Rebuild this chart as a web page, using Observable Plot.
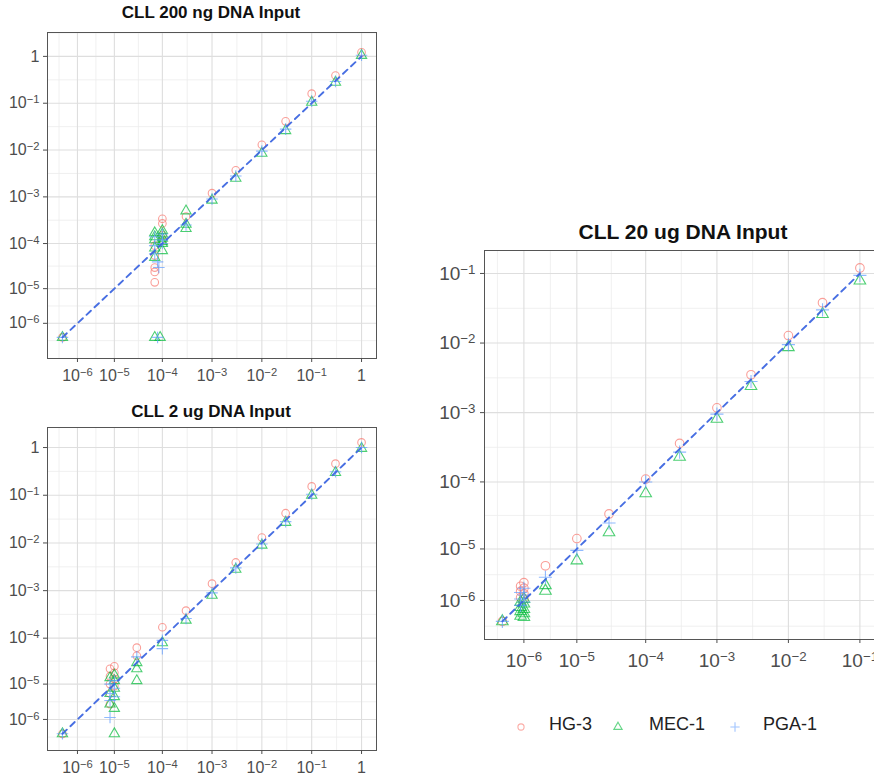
<!DOCTYPE html>
<html><head><meta charset="utf-8">
<script src="https://cdn.jsdelivr.net/npm/d3@7"></script>
<script src="https://cdn.jsdelivr.net/npm/@observablehq/plot@0.6"></script>
<style>
body{margin:0;width:874px;height:780px;overflow:hidden;background:#fff;font-family:"Liberation Sans",Arial,sans-serif;position:relative}
.title{position:absolute;font-weight:bold;color:#111;text-align:center;white-space:nowrap;transform:translateX(-50%)}
.leg{position:absolute;top:714px;font-size:18px;color:#222;white-space:nowrap}
</style></head><body>
<script>
// ---------- data ----------
const seriesNames = ["HG-3", "MEC-1", "PGA-1"];
const seriesColors = ["#F8766D", "#00BA38", "#619CFF"];
const seriesSymbols = ["circle", "triangle", "plus"];

const majorTicksLeft = [1e-6, 1e-5, 1e-4, 1e-3, 1e-2, 1e-1, 1];
const majorLabelsLeft = ["10^-6", "10^-5", "10^-4", "10^-3", "10^-2", "10^-1", "1"];
const majorTicksRight = [1e-6, 1e-5, 1e-4, 1e-3, 1e-2, 1e-1];
const majorLabelsRight = ["10^-6", "10^-5", "10^-4", "10^-3", "10^-2", "10^-1"];

// CLL 200 ng
const x200_HG3 = [1, 0.3, 0.1, 0.03, 0.01, 0.003, 0.001, 3e-4, 1e-4, 1e-4, 1e-4, 1e-4, 7e-5, 7e-5, 7e-5, 7e-5, 7e-5, 0];
const y200_HG3 = [1.22, 0.39, 0.16, 0.041, 0.013, 0.0037, 0.0012, 3.8e-4, 3.4e-4, 2.7e-4, 1.5e-4, 1.2e-4, 9e-5, 5.5e-5, 3e-5, 2.4e-5, 1.4e-5, 0];
const x200_MEC1 = [1, 0.3, 0.1, 0.03, 0.01, 0.003, 0.001, 3e-4, 3e-4, 3e-4, 1e-4, 1e-4, 1e-4, 1e-4, 1e-4, 1e-4, 7e-5, 7e-5, 7e-5, 7e-5, 7e-5, 7e-5, 9e-5, 0];
const y200_MEC1 = [1.05, 0.28, 0.105, 0.026, 0.0085, 0.0025, 0.00085, 5e-4, 2.6e-4, 2.1e-4, 1.9e-4, 1.6e-4, 1.3e-4, 1.1e-4, 1e-4, 7e-5, 1.7e-4, 1.4e-4, 1.2e-4, 8e-5, 5e-5, 0, 0, 0];
const x200_PGA1 = [1, 0.3, 0.1, 0.03, 0.01, 0.003, 0.001, 3e-4, 1e-4, 1e-4, 1e-4, 8.5e-5, 7e-5, 7e-5, 7e-5, 8e-5, 8e-5, 0];
const y200_PGA1 = [1.06, 0.29, 0.11, 0.028, 0.0095, 0.0028, 0.0009, 2.5e-4, 1.6e-4, 1.2e-4, 1e-4, 3e-5, 1.4e-4, 9e-5, 6e-5, 0, 4e-5, 0];

// CLL 2 ug
const x2_HG3 = [1, 0.3, 0.1, 0.03, 0.01, 0.003, 0.001, 3e-4, 1e-4, 3e-5, 3e-5, 1e-5, 1e-5, 1e-5, 1e-5, 8e-6, 8e-6, 8e-6, 8e-6, 8e-6, 0];
const y2_HG3 = [1.28, 0.46, 0.153, 0.042, 0.013, 0.0039, 0.0014, 3.8e-4, 1.7e-4, 6.3e-5, 4.2e-5, 2.5e-5, 1.8e-5, 1.3e-5, 9e-6, 2.2e-5, 1.5e-5, 1e-5, 6e-6, 3.2e-6, 0];
const x2_MEC1 = [1, 0.3, 0.1, 0.03, 0.01, 0.003, 0.001, 3e-4, 1e-4, 3e-5, 3e-5, 3e-5, 1e-5, 1e-5, 1e-5, 1e-5, 1e-5, 8e-6, 8e-6, 8e-6, 1e-5, 0];
const y2_MEC1 = [0.96, 0.30, 0.1, 0.027, 0.009, 0.0028, 0.0008, 2.4e-4, 8e-5, 3e-5, 2.2e-5, 1.2e-5, 1.6e-5, 1.2e-5, 8e-6, 5e-6, 2.4e-6, 1.4e-5, 6e-6, 3.2e-6, 0, 0];
const x2_PGA1 = [1, 0.3, 0.1, 0.03, 0.01, 0.003, 0.001, 3e-4, 1e-4, 1e-4, 3e-5, 1e-5, 1e-5, 1e-5, 8e-6, 8e-6, 8e-6, 8e-6, 0];
const y2_PGA1 = [1.0, 0.31, 0.105, 0.028, 0.0095, 0.003, 0.0009, 2.6e-4, 9e-5, 6e-5, 4e-5, 1.2e-5, 8e-6, 5e-6, 1e-5, 6e-6, 4e-6, 1.2e-6, 0];

// CLL 20 ug
const x20_HG3 = [0.1, 0.03, 0.01, 0.003, 0.001, 3e-4, 1e-4, 3e-5, 1e-5, 3e-6, 1e-6, 1e-6, 1e-6, 1e-6, 8e-7, 8e-7, 8e-7, 0];
const y20_HG3 = [0.12, 0.038, 0.0128, 0.0035, 0.00117, 3.6e-4, 1.1e-4, 3.4e-5, 1.45e-5, 5.3e-6, 2.6e-6, 2e-6, 1.5e-6, 1.1e-6, 2.2e-6, 1.7e-6, 1.2e-6, 0];
const x20_MEC1 = [0.1, 0.03, 0.01, 0.003, 0.001, 3e-4, 1e-4, 3e-5, 1e-5, 3e-6, 3e-6, 1e-6, 1e-6, 1e-6, 1e-6, 1e-6, 8e-7, 8e-7, 8e-7, 8e-7, 0];
const y20_MEC1 = [0.079, 0.026, 0.0087, 0.0024, 0.00081, 2.3e-4, 6.8e-5, 1.8e-5, 6.5e-6, 2.3e-6, 1.75e-6, 1.1e-6, 8e-7, 5e-7, 3e-7, 1.5e-7, 9e-7, 6e-7, 4e-7, 2e-7, 0];
const x20_PGA1 = [0.1, 0.03, 0.01, 0.003, 0.001, 3e-4, 1e-4, 3e-5, 1e-5, 3e-6, 1e-6, 1e-6, 1e-6, 8e-7, 8e-7, 8e-7, 0];
const y20_PGA1 = [0.094, 0.030, 0.0095, 0.0028, 0.00095, 2.7e-4, 1e-4, 2.5e-5, 9.5e-6, 3.3e-6, 2e-6, 1.4e-6, 9e-7, 1.6e-6, 1.1e-6, 7e-7, 0];

// ---------- helpers ----------
const OFFSET = 1e-6;              // axis transform: log10(value + 1e-6)
const u = v => Math.log10(v + OFFSET);

function toRows(xs, ys, s) { return xs.map((x, i) => ({x, y: ys[i], s})); }

function minorOf(majU, dom) {
  const b = [majU[0] - (majU[1] - majU[0]), ...majU, majU[majU.length - 1] + (majU[majU.length - 1] - majU[majU.length - 2])];
  const out = [];
  for (let i = 0; i < b.length - 1; i++) out.push((b[i] + b[i + 1]) / 2);
  return out.filter(v => v > dom[0] && v < dom[1]);
}

function supify(svg) {
  svg.querySelectorAll("text").forEach(t => {
    const m = /^10\^(-?\d+)$/.exec(t.textContent);
    if (m) {
      t.textContent = "10";
      const ts = document.createElementNS("http://www.w3.org/2000/svg", "tspan");
      ts.setAttribute("dy", "-0.45em");
      ts.setAttribute("font-size", "0.7em");
      ts.textContent = m[1].replace("-", "\u2212");
      t.appendChild(ts);
    }
  });
}

function panel(o) {
  const ticksU = o.ticks.map(u);
  const lab = new Map(ticksU.map((t, i) => [t, o.labels[i]]));
  const rows = [
    ...toRows(o.data[0][0], o.data[0][1], 0),
    ...toRows(o.data[1][0], o.data[1][1], 1),
    ...toRows(o.data[2][0], o.data[2][1], 2)
  ];
  const marks = [
    Plot.gridX(minorOf(ticksU, o.xDomain), {stroke: "#ececec", strokeOpacity: 1, strokeWidth: 0.8}),
    Plot.gridY(minorOf(ticksU, o.yDomain), {stroke: "#ececec", strokeOpacity: 1, strokeWidth: 0.8}),
    Plot.gridX(ticksU, {stroke: "#dedede", strokeOpacity: 1, strokeWidth: 1.1}),
    Plot.gridY(ticksU, {stroke: "#dedede", strokeOpacity: 1, strokeWidth: 1.1}),
  ];
  for (let s = 0; s < 3; s++) {
    marks.push(Plot.dot(rows.filter(d => d.s === s), {
      x: d => u(d.x), y: d => u(d.y),
      symbol: seriesSymbols[s], stroke: seriesColors[s], fill: "none",
      r: o.r, strokeWidth: 1.1, strokeOpacity: 0.7
    }));
  }
  marks.push(Plot.line([{v: 0}, {v: o.lineMax}], {
    x: d => u(d.v), y: d => u(d.v), stroke: "#3d66e0", strokeWidth: 1.9, strokeDasharray: "6,5", strokeOpacity: 0.95
  }));
  marks.push(Plot.frame({stroke: "#555", strokeWidth: 1}));
  marks.push(Plot.axisX(ticksU, {anchor: "bottom", tickFormat: d => lab.get(d), tickSize: 4, tickPadding: o.xPad, fontSize: o.font, color: "#4d4d4d", label: null}));
  marks.push(Plot.axisY(ticksU, {anchor: "left", tickFormat: d => lab.get(d), tickSize: 4, tickPadding: o.yPad, fontSize: o.font, color: "#4d4d4d", label: null}));
  const svg = Plot.plot({
    width: o.width, height: o.height,
    marginLeft: o.m[0], marginRight: o.m[1], marginTop: o.m[2], marginBottom: o.m[3],
    x: {type: "linear", domain: o.xDomain},
    y: {type: "linear", domain: o.yDomain},
    style: {fontFamily: "'Liberation Sans', Arial, sans-serif", overflow: "hidden", background: "transparent"},
    marks
  });
  supify(svg);
  svg.style.position = "absolute";
  svg.style.left = o.left + "px";
  svg.style.top = o.top + "px";
  svg.style.maxWidth = "none";
  document.body.appendChild(svg);

  const t = document.createElement("div");
  t.className = "title";
  t.textContent = o.title;
  t.style.left = o.titleX + "px";
  t.style.top = o.titleY + "px";
  t.style.fontSize = o.titleFont + "px";
  document.body.appendChild(t);
}

panel({
  title: "CLL 200 ng DNA Input", titleX: 211, titleY: 3, titleFont: 17,
  left: 0, top: 24, width: 390, height: 370, m: [47, 14, 8, 36],
  xDomain: [-6.3, 0.3], yDomain: [-6.45, 0.51],
  ticks: majorTicksLeft, labels: majorLabelsLeft, font: 16, xPad: 7, yPad: 4, r: 3.8, lineMax: 1,
  data: [[x200_HG3, y200_HG3], [x200_MEC1, y200_MEC1], [x200_PGA1, y200_PGA1]]
});
panel({
  title: "CLL 2 ug DNA Input", titleX: 211, titleY: 402, titleFont: 17,
  left: 0, top: 419, width: 390, height: 370, m: [47, 14, 8, 39],
  xDomain: [-6.3, 0.3], yDomain: [-6.35, 0.42],
  ticks: majorTicksLeft, labels: majorLabelsLeft, font: 16, xPad: 7, yPad: 4, r: 3.8, lineMax: 1,
  data: [[x2_HG3, y2_HG3], [x2_MEC1, y2_MEC1], [x2_PGA1, y2_PGA1]]
});
panel({
  title: "CLL 20 ug DNA Input", titleX: 683, titleY: 220, titleFont: 21,
  left: 420, top: 242, width: 454, height: 442, m: [64, -9, 8, 45],
  xDomain: [-6.25, -0.67], yDomain: [-6.26, -0.67],
  ticks: majorTicksRight, labels: majorLabelsRight, font: 19, xPad: 10, yPad: 5, r: 4.3, lineMax: 0.1,
  data: [[x20_HG3, y20_HG3], [x20_MEC1, y20_MEC1], [x20_PGA1, y20_PGA1]]
});

// ---------- legend ----------
const legPos = [[521, 549], [618, 649], [735, 763]];
seriesNames.forEach((name, i) => {
  const [sx, tx] = legPos[i];
  const sw = document.createElementNS("http://www.w3.org/2000/svg", "svg");
  sw.setAttribute("width", 16); sw.setAttribute("height", 16);
  sw.style.position = "absolute"; sw.style.left = (sx - 8) + "px"; sw.style.top = (727 - 8) + "px";
  const sym = d3.symbol(i === 0 ? d3.symbolCircle : i === 1 ? d3.symbolTriangle : d3.symbolPlus, 30)();
  const p = document.createElementNS("http://www.w3.org/2000/svg", "path");
  p.setAttribute("d", sym); p.setAttribute("transform", "translate(8,8)");
  p.setAttribute("fill", "none"); p.setAttribute("stroke", seriesColors[i]);
  p.setAttribute("stroke-width", 1.1); p.setAttribute("stroke-opacity", 0.6);
  sw.appendChild(p);
  document.body.appendChild(sw);
  const d = document.createElement("div");
  d.className = "leg"; d.style.left = tx + "px"; d.textContent = name;
  document.body.appendChild(d);
});
</script>
</body></html>
